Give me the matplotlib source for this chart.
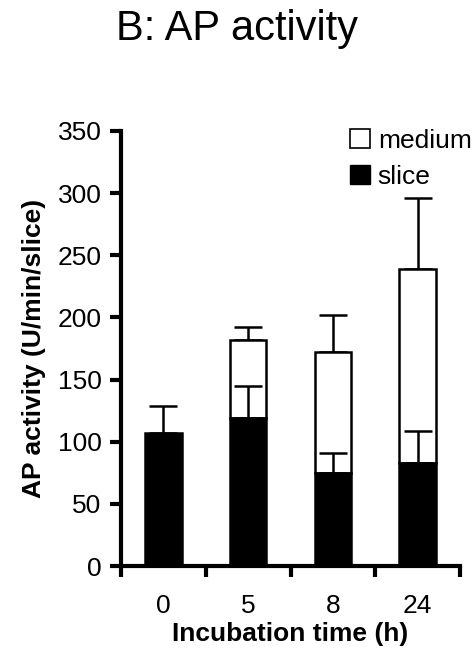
import matplotlib
matplotlib.use("Agg")
import matplotlib.pyplot as plt
import numpy as np
from matplotlib.patches import Patch

plt.rcParams['font.family'] = ['Liberation Sans', 'DejaVu Sans']

categories = ["0", "5", "8", "24"]
slice_vals = [107, 119, 75, 83]
slice_err = [22, 26, 16, 26]
total_vals = [107, 182, 172, 239]
total_err = [0, 10, 30, 57]
medium_vals = [t - s for t, s in zip(total_vals, slice_vals)]

FS = 19

fig = plt.figure(figsize=(4.74, 6.64), dpi=100)
ax = fig.add_axes([121/474, 1 - 566/664, (460-121)/474, (566-131)/664])

x = np.arange(len(categories)) + 0.5
w = 0.43
has_medium = np.array([m > 0 for m in medium_vals])
ax.bar(x[has_medium], np.array(medium_vals)[has_medium], w, bottom=np.array(slice_vals)[has_medium],
       color='white', edgecolor='black', linewidth=1.8, zorder=2)
ax.errorbar(x[has_medium], np.array(total_vals)[has_medium],
            yerr=[np.zeros(has_medium.sum()), np.array(total_err)[has_medium]],
            fmt='none', ecolor='black', elinewidth=1.8, capsize=10, capthick=1.8, zorder=1)
ax.bar(x, slice_vals, w, color='black', edgecolor='black', linewidth=1.8, zorder=3)
ax.errorbar(x, slice_vals, yerr=[np.zeros(len(x)), slice_err],
            fmt='none', ecolor='black', elinewidth=1.8, capsize=10, capthick=1.8, zorder=4)

ax.set_xlim(0, 4)
ax.set_ylim(0, 350)
ax.set_yticks(np.arange(0, 351, 50))
ax.set_xticks(np.arange(0, 5))
ax.set_xticklabels([])
ax.set_xticks(x, minor=True)
ax.set_xticklabels(categories, minor=True, fontsize=FS)
ax.tick_params(axis='x', which='minor', length=0, pad=20)
ax.tick_params(axis='x', which='major', direction='out', length=8, width=3)
ax.tick_params(axis='y', direction='out', length=8, width=3, labelsize=FS, pad=6)
for s in ['top', 'right']:
    ax.spines[s].set_visible(False)
for s in ['left', 'bottom']:
    ax.spines[s].set_linewidth(3)
ax.set_ylabel("AP activity (U/min/slice)", fontsize=FS, fontweight='bold', labelpad=8)
ax.set_xlabel("Incubation time (h)", fontsize=FS, fontweight='bold', labelpad=3)

handles = [Patch(facecolor='white', edgecolor='black', linewidth=1.2, label='medium'),
           Patch(facecolor='black', edgecolor='black', label='slice')]
fig.legend(handles=handles, loc='upper left', bbox_to_anchor=(350/474, 1 - 129/664), frameon=False,
           fontsize=FS, handlelength=0.75, handleheight=0.75, handletextpad=0.3, labelspacing=0.45,
           borderpad=0, borderaxespad=0)

fig.text(0.5, 1 - 29/664, "B: AP activity", ha='center', va='center', fontsize=30)

fig.savefig("out.png", dpi=100)
